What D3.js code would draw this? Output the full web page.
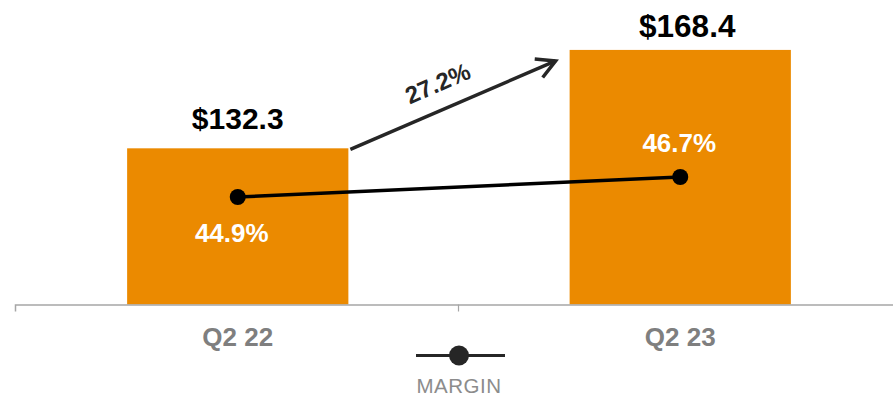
<!DOCTYPE html>
<html>
<head>
<meta charset="utf-8">
<script src="https://cdn.jsdelivr.net/npm/d3@7"></script>
<style>
  html, body { margin: 0; padding: 0; background: #fff; }
  svg { display: block; font-family: "Liberation Sans", Arial, Helvetica, sans-serif; }
</style>
</head>
<body>
<svg id="chart" width="893" height="396"></svg>
<script>
const categories = ["Q2 22", "Q2 23"];
const revenue = [132.3, 168.4];
const revenueLabels = ["$132.3", "$168.4"];
const margin = [44.9, 46.7];
const marginLabels = ["44.9%", "46.7%"];
const growthLabel = "27.2%";
const legendLabel = "MARGIN";

const svg = d3.select("#chart");
const baseY = 304.5;

const x = d3.scaleBand().domain(categories).range([16.5, 901.5]).paddingInner(0.5).paddingOuter(0.25);
const y = d3.scaleLinear().domain([75, 180]).range([baseY, 18.3]);
const y2 = d3.scaleLinear().domain([35, 50]).range([307, 140.3]);
const cx = d => x(d) + x.bandwidth() / 2;

const orange = "#eb8a00";
const dark = "#262626";

// bars
svg.selectAll("rect.bar").data(categories).join("rect")
  .attr("class", "bar")
  .attr("x", d => x(d))
  .attr("y", (d, i) => y(revenue[i]))
  .attr("width", x.bandwidth())
  .attr("height", (d, i) => baseY - y(revenue[i]))
  .attr("fill", orange);

// x axis
const xAxis = d3.axisBottom(d3.scalePoint().domain(["a","b","c"]).range([15, 901]))
  .tickSize(7).tickFormat("");
const gx = svg.append("g").attr("transform", `translate(0,${baseY})`).call(xAxis);
gx.select(".domain").attr("stroke", "#a6a6a6").attr("stroke-width", 1.5)
  .attr("d", "M15.5,7V0.5H900");
gx.selectAll(".tick line").attr("stroke", "#a6a6a6").attr("stroke-width", 1.2);
gx.selectAll(".tick").filter((d, i) => i === 0).remove();

// category labels
svg.selectAll("text.cat").data(categories).join("text")
  .attr("class", "cat")
  .attr("x", d => cx(d))
  .attr("y", 345.5)
  .attr("text-anchor", "middle")
  .attr("font-size", 26)
  .attr("font-weight", "bold")
  .attr("fill", "#7f7f7f")
  .text(d => d);

// value labels
const valOffset = [0, 7];
const valGap = [19.5, 13];
const valSize = [30, 31.5];
svg.selectAll("text.val").data(categories).join("text")
  .attr("class", "val")
  .attr("x", (d, i) => cx(d) + valOffset[i])
  .attr("y", (d, i) => y(revenue[i]) - valGap[i])
  .attr("text-anchor", "middle")
  .attr("font-size", (d, i) => valSize[i])
  .attr("font-weight", "bold")
  .attr("fill", "#000")
  .text((d, i) => revenueLabels[i]);

// margin line
const line = d3.line().x((d, i) => cx(categories[i])).y(d => y2(d));
svg.append("path").datum(margin)
  .attr("d", line)
  .attr("fill", "none")
  .attr("stroke", "#000")
  .attr("stroke-width", 3.5);
svg.selectAll("circle.pt").data(margin).join("circle")
  .attr("class", "pt")
  .attr("cx", (d, i) => cx(categories[i]))
  .attr("cy", d => y2(d))
  .attr("r", 8)
  .attr("fill", "#000");

// margin labels
const mOff = [45.5, -25];
const mDx = [-6, -1];
svg.selectAll("text.mlab").data(margin).join("text")
  .attr("class", "mlab")
  .attr("x", (d, i) => cx(categories[i]) + mDx[i])
  .attr("y", (d, i) => y2(d) + mOff[i])
  .attr("text-anchor", "middle")
  .attr("font-size", 26)
  .attr("font-weight", "bold")
  .attr("fill", "#fff")
  .text((d, i) => marginLabels[i]);

// growth arrow
const ax0 = x(categories[0]) + x.bandwidth() + 2, ay0 = y(revenue[0]) + 1;
const ax1 = x(categories[1]) - 14, ay1 = y(revenue[1]) + 11;
const ang = Math.atan2(ay1 - ay0, ax1 - ax0);
svg.append("line")
  .attr("x1", ax0).attr("y1", ay0).attr("x2", ax1).attr("y2", ay1)
  .attr("stroke", dark).attr("stroke-width", 3.5);
const hl = 21, ha = 0.5;
svg.append("path")
  .attr("d", `M${ax1 - hl * Math.cos(ang - ha)},${ay1 - hl * Math.sin(ang - ha)}L${ax1},${ay1}L${ax1 - hl * Math.cos(ang + ha)},${ay1 - hl * Math.sin(ang + ha)}`)
  .attr("fill", "none").attr("stroke", dark).attr("stroke-width", 3.5)
  .attr("stroke-linejoin", "miter").attr("stroke-linecap", "butt");
const deg = ang * 180 / Math.PI;
svg.append("text")
  .attr("transform", `translate(441,91) rotate(${deg})`)
  .attr("text-anchor", "middle")
  .attr("font-size", 24)
  .attr("font-weight", "bold")
  .attr("fill", dark)
  .text(growthLabel);

// legend
const lx = 459, ly = 355.5;
svg.append("line").attr("x1", lx - 43).attr("x2", lx + 46).attr("y1", ly).attr("y2", ly)
  .attr("stroke", dark).attr("stroke-width", 3);
svg.append("circle").attr("cx", lx).attr("cy", ly).attr("r", 10).attr("fill", dark);
svg.append("text")
  .attr("x", lx).attr("y", 393)
  .attr("text-anchor", "middle")
  .attr("font-size", 20.5)
  .attr("letter-spacing", 0.5)
  .attr("fill", "#8c8c8c")
  .text(legendLabel);
</script>
</body>
</html>
